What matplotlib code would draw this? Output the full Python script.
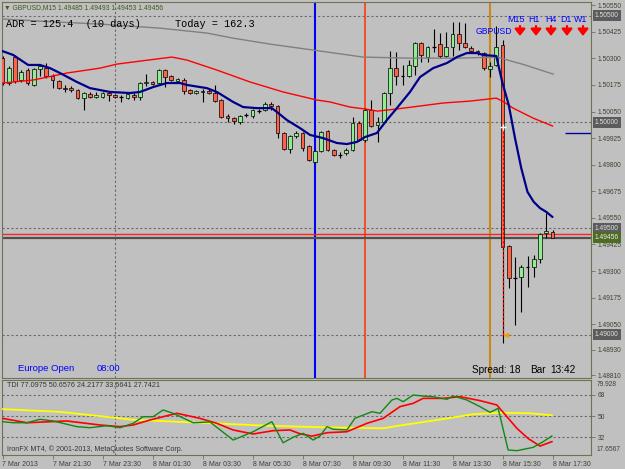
import matplotlib
matplotlib.use("Agg")
import matplotlib.pyplot as plt

W, H = 625, 469
BG = "#c0c0c0"
SPINE = "#6c7454"
AXIS_TXT = "#3c4430"
BULL = "#90ee90"
BEAR = "#ff6347"
SANS = ["Liberation Sans", "DejaVu Sans"]

# GBPUSD M15 bars, 7 Mar 19:30 .. 8 Mar 17:30
bar_open = [1.50301, 1.50184, 1.50306, 1.50198, 1.50245, 1.50175, 1.50250, 1.50254, 1.50217, 1.50193,
            1.50160, 1.50160, 1.50151, 1.50113, 1.50132, 1.50118, 1.50118, 1.50137, 1.50128, 1.50120,
            1.50113, 1.50128, 1.50118, 1.50184, 1.50189, 1.50184, 1.50245, 1.50217, 1.50193, 1.50198,
            1.50151, 1.50137, 1.50146, 1.50146, 1.50137, 1.50104, 1.50029, 1.50019, 1.50001, 1.50034,
            1.50029, 1.50054, 1.50057, 1.50085, 1.50076, 1.49949, 1.49874, 1.49935, 1.49949, 1.49888,
            1.49813, 1.49864, 1.49958, 1.49869, 1.49848, 1.49855, 1.49869, 1.49996, 1.49916, 1.50057,
            1.49987, 1.50001, 1.50137, 1.50254, 1.50219, 1.50217, 1.50264, 1.50372, 1.50306, 1.50353,
            1.50367, 1.50311, 1.50353, 1.50414, 1.50372, 1.50348, 1.50334, 1.50325, 1.50250, 1.50269,
            1.50363, 1.49418, 1.49267, 1.49272, 1.49319, 1.49319, 1.49357, 1.49479, 1.49485]
bar_high = [1.50311, 1.50264, 1.50316, 1.50245, 1.50254, 1.50254, 1.50269, 1.50278, 1.50226, 1.50198,
            1.50175, 1.50170, 1.50156, 1.50142, 1.50142, 1.50142, 1.50142, 1.50142, 1.50132, 1.50128,
            1.50137, 1.50137, 1.50189, 1.50226, 1.50193, 1.50250, 1.50250, 1.50222, 1.50207, 1.50207,
            1.50156, 1.50151, 1.50156, 1.50156, 1.50175, 1.50109, 1.50038, 1.50024, 1.50034, 1.50043,
            1.50062, 1.50062, 1.50095, 1.50095, 1.50081, 1.49954, 1.49940, 1.49958, 1.49954, 1.49893,
            1.49869, 1.49958, 1.49963, 1.49874, 1.49860, 1.49878, 1.50024, 1.50005, 1.50066, 1.50104,
            1.50024, 1.50142, 1.50334, 1.50330, 1.50269, 1.50292, 1.50377, 1.50377, 1.50358, 1.50438,
            1.50419, 1.50424, 1.50471, 1.50471, 1.50466, 1.50358, 1.50339, 1.50330, 1.50283, 1.50452,
            1.50386, 1.49423, 1.49366, 1.49329, 1.49371, 1.49376, 1.49479, 1.49573, 1.49493]
bar_low = [1.50175, 1.50175, 1.50184, 1.50189, 1.50175, 1.50170, 1.50217, 1.50207, 1.50160, 1.50156,
           1.50142, 1.50142, 1.50109, 1.50057, 1.50113, 1.50113, 1.50113, 1.50099, 1.50113, 1.50095,
           1.50109, 1.50104, 1.50104, 1.50170, 1.50175, 1.50179, 1.50165, 1.50193, 1.50184, 1.50132,
           1.50132, 1.50132, 1.50095, 1.50132, 1.50095, 1.50019, 1.50001, 1.49991, 1.49991, 1.50024,
           1.50019, 1.50043, 1.50052, 1.50057, 1.49925, 1.49869, 1.49855, 1.49925, 1.49864, 1.49817,
           1.49808, 1.49860, 1.49864, 1.49841, 1.49832, 1.49846, 1.49864, 1.49911, 1.49907, 1.49977,
           1.49907, 1.49996, 1.50081, 1.50175, 1.50175, 1.50212, 1.50222, 1.50283, 1.50283, 1.50330,
           1.50301, 1.50306, 1.50311, 1.50339, 1.50348, 1.50330, 1.50316, 1.50245, 1.50212, 1.50264,
           1.48962, 1.49220, 1.49047, 1.49108, 1.49225, 1.49272, 1.49338, 1.49455, 1.49453]
bar_close = [1.50184, 1.50254, 1.50193, 1.50236, 1.50184, 1.50250, 1.50264, 1.50217, 1.50198, 1.50160,
             1.50156, 1.50151, 1.50113, 1.50137, 1.50118, 1.50128, 1.50137, 1.50128, 1.50118, 1.50118,
             1.50132, 1.50118, 1.50184, 1.50189, 1.50179, 1.50245, 1.50212, 1.50198, 1.50203, 1.50146,
             1.50137, 1.50146, 1.50142, 1.50137, 1.50099, 1.50024, 1.50019, 1.50005, 1.50029, 1.50036,
             1.50057, 1.50052, 1.50085, 1.50076, 1.49949, 1.49874, 1.49935, 1.49949, 1.49878, 1.49822,
             1.49864, 1.49954, 1.49869, 1.49846, 1.49846, 1.49869, 1.49996, 1.49916, 1.50057, 1.49982,
             1.50001, 1.50137, 1.50254, 1.50217, 1.50217, 1.50269, 1.50372, 1.50316, 1.50353, 1.50350,
             1.50311, 1.50353, 1.50414, 1.50372, 1.50353, 1.50334, 1.50325, 1.50254, 1.50264, 1.50353,
             1.49413, 1.49267, 1.49270, 1.49319, 1.49322, 1.49357, 1.49474, 1.49488, 1.49456]

time_ticks = [0, 8, 16, 24, 32, 40, 48, 56, 64, 72, 80, 88]
time_labels = ["7 Mar 2013", "7 Mar 21:30", "7 Mar 23:30", "8 Mar 01:30", "8 Mar 03:30",
               "8 Mar 05:30", "8 Mar 07:30", "8 Mar 09:30", "8 Mar 11:30", "8 Mar 13:30",
               "8 Mar 15:30", "8 Mar 17:30"]

price_ticks = [1.50550, 1.50425, 1.50300, 1.50175, 1.50050, 1.49925, 1.49800, 1.49675,
               1.49550, 1.49425, 1.49300, 1.49175, 1.49050, 1.48930, 1.48810]
round_levels = [1.50500, 1.50000, 1.49500, 1.49000]
ask_price = 1.49474
bid_price = 1.49456

# moving averages (bar position, price)
ma_fast_x = [0, 1.7, 4.1, 6.0, 7.6, 9.2, 11.9, 14.0, 17.2, 20.4, 22.0, 24.1, 26.3, 28.4, 29.5,
             32.7, 34.3, 36.9, 38.5, 40.7, 43.1, 43.9, 45.5, 47.6, 49.2, 51.3, 53.5, 55.1, 56.7,
             58.0, 59.9, 61.5, 63.1, 65.2, 66.8, 68.9, 71.1, 72.7, 74.3, 75.9, 76.9, 79,
             80, 81, 82, 83, 84, 85, 86, 87, 88]
ma_fast_y = [1.50334, 1.50316, 1.50269, 1.50269, 1.50254, 1.50231, 1.50189, 1.50160, 1.50142,
             1.50137, 1.50142, 1.50165, 1.50184, 1.50184, 1.50175, 1.50160, 1.50142, 1.50095,
             1.50071, 1.50066, 1.50066, 1.50048, 1.50010, 1.49972, 1.49940, 1.49925, 1.49902,
             1.49897, 1.49907, 1.49930, 1.49949, 1.50010, 1.50066, 1.50142, 1.50212, 1.50254,
             1.50278, 1.50306, 1.50325, 1.50325, 1.50316, 1.50311,
             1.50184, 1.50081, 1.49925, 1.49784, 1.49672, 1.49625, 1.49596, 1.49578, 1.49554]
ma_mid_x = [0, 4.9, 10.3, 15.6, 18.3, 22.0, 27.1, 29.5, 34.3, 39.6, 44.9, 50.3, 52.4, 55.6,
            58.0, 60.0, 63.1, 66.8, 70.5, 74.8, 79, 80, 81.7, 84.9, 88]
ma_mid_y = [1.50184, 1.50198, 1.50231, 1.50254, 1.50273, 1.50287, 1.50306, 1.50292, 1.50245,
            1.50189, 1.50142, 1.50104, 1.50095, 1.50071, 1.50062, 1.50052, 1.50062, 1.50076,
            1.50090, 1.50099, 1.50113, 1.50099, 1.50066, 1.50019, 1.49982]
ma_slow_x = [0, 6.0, 15.6, 25.2, 32.7, 36.9, 42.8, 49.7, 57.7, 65.2, 73.2, 79.1, 83.6, 88.1]
ma_slow_y = [1.50485, 1.50475, 1.50461, 1.50442, 1.50419, 1.50395, 1.50367, 1.50339, 1.50306,
             1.50301, 1.50301, 1.50306, 1.50269, 1.50226]

# TDI lines (bar position, value)
tdi_base_x = [0, 9.2, 17.2, 20.9, 31.6, 42.3, 50.8, 60.9, 63.6, 70.0, 75.3, 79.6, 84.4, 87.9]
tdi_base_y = [55.8, 53.5, 49.0, 46.8, 44.3, 41.8, 40.5, 39.6, 42.0, 47.0, 51.5, 52.8, 52.3, 50.6]
tdi_signal_x = [0, 3.9, 10.3, 15.6, 18.8, 20.9, 23.6, 27.9, 31.6, 34.3, 36.9, 40.1, 43.3, 46.0,
                47.6, 49.5, 52.0, 55.1, 58.3, 60.9, 63.6, 65.7, 67.3, 70.5, 73.2, 76.4, 79.1,
                82.3, 84.1, 86.0, 87.9]
tdi_signal_y = [48.0, 44.3, 45.8, 42.4, 41.0, 42.4, 46.6, 52.3, 48.0, 43.8, 38.2, 34.8, 37.6, 38.2,
                35.0, 33.0, 35.9, 36.7, 43.8, 48.0, 57.9, 60.7, 64.9, 64.9, 66.3, 63.0, 59.3,
                39.6, 31.0, 24.6, 28.3]
tdi_rsi_x = [0, 1.7, 3.9, 6.0, 8.1, 11.9, 14.0, 16.7, 18.8, 20.9, 22.5, 24.1, 25.7, 27.3, 30.5,
             33.2, 36.9, 40.1, 43.1, 44.9, 46.5, 48.1, 49.7, 50.8, 51.9, 52.9, 55.1, 56.4, 59.1,
             60.4, 62.3, 63.1, 64.1, 65.7, 67.3, 68.9, 71.1, 72.1, 74.3, 76.4, 78.0, 79.3, 80.9,
             82.3, 84.9, 86.5, 87.9]
tdi_rsi_y = [45.2, 44.3, 44.3, 47.2, 45.8, 41.0, 40.1, 41.8, 40.1, 43.8, 49.4, 49.4, 55.1, 52.3,
             44.3, 44.9, 29.7, 36.7, 45.2, 27.4, 32.0, 35.4, 29.7, 33.1, 41.0, 38.8, 38.2, 48.1,
             53.6, 52.3, 63.5, 64.9, 62.1, 67.7, 66.9, 66.3, 64.1, 66.9, 63.5, 57.9, 53.1, 56.5,
             21.3, 20.7, 23.5, 28.3, 33.1]
tdi_levels = [68, 50, 32]


def frame(x0, y0, x1, y1):
    return [x0 / W, 1 - y1 / H, (x1 - x0) / W, (y1 - y0) / H]


def ftext(x, y, s, **kw):
    kw.setdefault("va", "center")
    kw.setdefault("family", SANS)
    fig.text(x / W, 1 - y / H, s, **kw)


fig = plt.figure(figsize=(6.25, 4.69), dpi=100, facecolor=BG)

# ---- main price window
ax = fig.add_axes(frame(2, 2, 591, 378))
ax.set_facecolor(BG)
ax.set_xlim(-0.08, 94.16)
ax.set_ylim(1.48797, 1.50565)
for sp in ax.spines.values():
    sp.set_color(SPINE)
    sp.set_linewidth(0.8)
ax.set_xticks([])
ax.yaxis.tick_right()
ax.set_yticks(price_ticks)
ax.set_yticklabels([f"{p:.5f}" for p in price_ticks], family=SANS)
ax.tick_params(axis="y", direction="out", length=3, width=0.6, pad=2,
               labelsize=4.8, color=SPINE, labelcolor=AXIS_TXT)

for lvl in round_levels:
    ax.axhline(lvl, color="#6a6a6a", lw=0.8, ls=(0, (2, 2)), zorder=1)
ax.axvline(18, color="#6a6a6a", lw=0.8, ls=(0, (2, 2)), zorder=1)

ax.axvline(50, color="#0000ff", lw=1.5, zorder=2)
ax.axvline(58, color="#ff3a10", lw=1.2, zorder=2)
ax.axvline(78, color="#c88a14", lw=1.5, zorder=2)

ax.axhline(ask_price, color="#ff2020", lw=1.0, zorder=2.5)
ax.axhline(bid_price, color="#505050", lw=1.6, zorder=2.5)
ax.hlines(1.49949, 90.0, 94.16, color="#0000a0", lw=1, zorder=2)

for i, (o, h, l, c) in enumerate(zip(bar_open, bar_high, bar_low, bar_close)):
    ax.vlines(i, l, h, color="black", lw=0.8, zorder=3)
    if abs(c - o) < 0.00004:
        ax.hlines((o + c) / 2, i - 0.3, i + 0.3, color="black", lw=0.9, zorder=4)
    else:
        ax.bar(i, abs(c - o), bottom=min(o, c), width=0.58,
               color=BULL if c > o else BEAR, edgecolor="black", lw=0.5, zorder=4)

ax.plot(ma_slow_x, ma_slow_y, color="#808080", lw=1, zorder=5)
ax.plot(ma_mid_x, ma_mid_y, color="#ff0000", lw=1, zorder=5)
ax.plot(ma_fast_x, ma_fast_y, color="#00008b", lw=1.6, zorder=5, solid_capstyle="round")

# trade line on the big bar
ax.vlines(80, 1.48999, 1.49977, colors="#ff0000", lw=0.9, linestyles=(0, (2, 1.5)), zorder=6)
ax.plot(80, 1.49977, marker="+", color="white", ms=4, mew=1, zorder=7)
ax.plot(80.5, 1.48999, marker="<", color="#ff9900", ms=3, zorder=7)

# boxed price labels
lab_tr = ax.get_yaxis_transform()
for lvl in round_levels:
    ax.text(1.0 + 4 / 589, lvl, f"{lvl:.5f}", transform=lab_tr, ha="left", va="center",
            fontsize=4.8, color="#e0e0e0", family=SANS, clip_on=False, zorder=8,
            bbox=dict(boxstyle="square,pad=0.3", fc="#5c5c5c", ec="none"))
ax.text(1.0 + 4 / 589, bid_price, f"{bid_price:.5f}", transform=lab_tr, ha="left", va="center",
        fontsize=4.8, color="#eaeaea", family=SANS, clip_on=False, zorder=8,
        bbox=dict(boxstyle="square,pad=0.3", fc="#4e6b22", ec="none"))

# ---- TDI window
tdi = fig.add_axes(frame(2, 380, 591, 455))
tdi.set_facecolor(BG)
tdi.set_xlim(-0.08, 94.16)
tdi.set_ylim(17.05, 80.42)
for sp in tdi.spines.values():
    sp.set_color(SPINE)
    sp.set_linewidth(0.8)
for lvl in tdi_levels:
    tdi.axhline(lvl, color="#6a6a6a", lw=0.8, ls=(0, (2, 2)), zorder=1)
tdi.axvline(18, color="#6a6a6a", lw=0.8, ls=(0, (2, 2)), zorder=1)
tdi.plot(tdi_base_x, tdi_base_y, color="#ffff00", lw=1.3, zorder=3)
tdi.plot(tdi_signal_x, tdi_signal_y, color="#ff0000", lw=1.2, zorder=4)
tdi.plot(tdi_rsi_x, tdi_rsi_y, color="#118811", lw=1.0, zorder=5)

tdi.yaxis.tick_right()
tdi.set_yticks(tdi_levels)
tdi.set_yticklabels([str(v) for v in tdi_levels], family=SANS)
tdi.tick_params(axis="y", direction="out", length=3, width=0.6, pad=2,
                labelsize=4.8, color=SPINE, labelcolor=AXIS_TXT)
tdi.set_xticks(time_ticks)
tdi.set_xticklabels(time_labels, ha="left", family=SANS)
tdi.tick_params(axis="x", direction="out", length=3, width=0.6, pad=1,
                labelsize=5, color=SPINE, labelcolor=AXIS_TXT)

ftext(597, 384.5, "79.928", fontsize=4.8, color=AXIS_TXT)
ftext(597, 449.5, "17.6567", fontsize=4.8, color=AXIS_TXT)

# ---- texts
ftext(4, 8, "\u25bc GBPUSD,M15 1.49485 1.49493 1.49453 1.49456", fontsize=4.9, color="#3f5a1f")
ftext(6, 24, "ADR = 125.4  (10 days)", fontsize=7.4, color="black", family="Liberation Mono")
ftext(175, 24, "Today = 162.3", fontsize=7.4, color="black", family="Liberation Mono")
ftext(476, 32, "GBPUSD", fontsize=6.2, color="#0000ff")
for name, cx, ax_x in [("M15", 515.5, 520), ("H1", 534, 536), ("H4", 550.5, 551),
                       ("D1", 566, 567), ("W1", 581, 583)]:
    ftext(cx, 20, name, fontsize=6.4, color="#0000ff", ha="center")
    ax.annotate("", xy=(ax_x, H - 36), xytext=(ax_x, H - 26), xycoords="figure pixels",
                textcoords="figure pixels",
                arrowprops=dict(arrowstyle="-|>,head_width=0.35,head_length=0.45",
                                color="#ff0000", lw=1.6, mutation_scale=9,
                                shrinkA=0, shrinkB=0))
ftext(18, 368, "Europe Open", fontsize=6.8, color="#0000ff")
ftext(97, 368, "08:00", fontsize=6.8, color="#0000ff")
ftext(472, 370, "Spread: 18", fontsize=7.2, color="black")
ftext(530, 370, "Bar", fontsize=7.2, color="black")
ftext(550, 370, "13:42", fontsize=7.2, color="black")
ftext(7, 385, "TDI 77.0975 50.6576 24.2177 33.6641 27.7421", fontsize=5.2, color="#303830")
ftext(7, 449, "IronFX MT4, \u00a9 2001-2013, MetaQuotes Software Corp.", fontsize=5.1, color="#303830")

fig.savefig("out.png", dpi=100, facecolor=BG)
